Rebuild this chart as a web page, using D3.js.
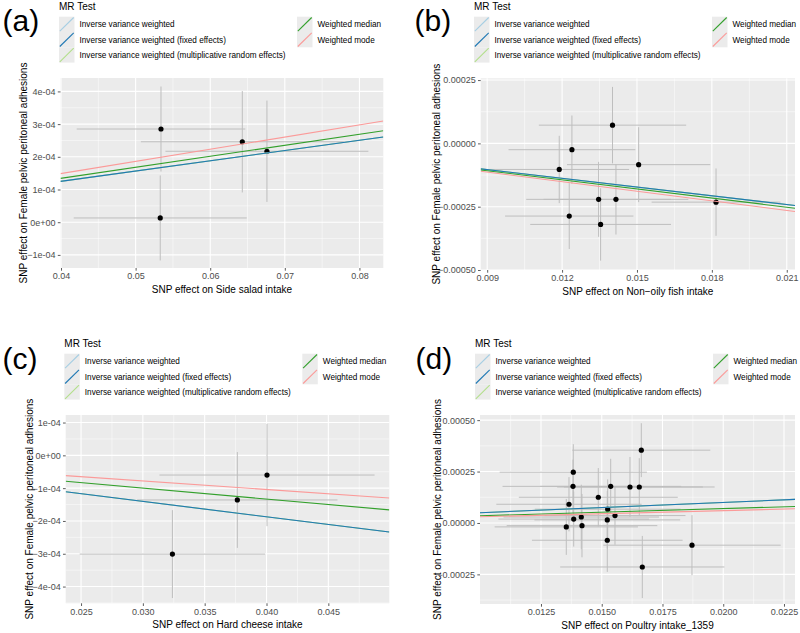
<!DOCTYPE html>
<html>
<head>
<meta charset="utf-8">
<script src="https://cdn.jsdelivr.net/npm/d3@7"></script>
<style>
  html, body { margin: 0; padding: 0; background: #ffffff; }
  svg { display: block; font-family: "Liberation Sans", Arial, Helvetica, sans-serif; }
</style>
</head>
<body>
<svg id="chart" width="800" height="633"></svg>
<script>
// ---------------- DATA ----------------
const methods = [
  "Inverse variance weighted",
  "Inverse variance weighted (fixed effects)",
  "Inverse variance weighted (multiplicative random effects)",
  "Weighted median",
  "Weighted mode"
];
const outcomeTitle = "SNP effect on Female pelvic peritoneal adhesions";
const exposureTitles = [
  "SNP effect on Side salad intake",
  "SNP effect on Non\u2212oily fish intake",
  "SNP effect on Hard cheese intake",
  "SNP effect on Poultry intake_1359"
];
const panelLetters = ["(a)", "(b)", "(c)", "(d)"];

// Panel (a): Side salad intake
const aBetaX = [0.0534, 0.0643, 0.0676, 0.0533];
const aBetaY = [2.85e-4, 2.46e-4, 2.17e-4, 0.13e-4];
const aSeX   = [0.0113, 0.0136, 0.0136, 0.0116];
const aSeY   = [1.30e-4, 1.55e-4, 1.55e-4, 1.30e-4];
const aSlopes = [3.13e-3, 3.13e-3, 3.13e-3, 3.36e-3, 3.72e-3];
const aXTicks = [0.04, 0.05, 0.06, 0.07, 0.08];
const aXTickLabels = ["0.04", "0.05", "0.06", "0.07", "0.08"];
const aYTicks = [-1e-4, 0, 1e-4, 2e-4, 3e-4, 4e-4];
const aYTickLabels = ["\u22121e-04", "0e+00", "1e-04", "2e-04", "3e-04", "4e-04"];

// Panel (b): Non-oily fish intake
const bBetaX = [0.01402, 0.012394, 0.011886, 0.015067, 0.013463, 0.014158, 0.012287, 0.013543, 0.018167];
const bBetaY = [7.2e-5, -2.5e-5, -1.03e-4, -8.4e-5, -2.21e-4, -2.21e-4, -2.87e-4, -3.20e-4, -2.32e-4];
const bSeX   = [0.00295, 0.00254, 0.0028, 0.00287, 0.0029, 0.0029, 0.00257, 0.00282, 0.00258];
const bSeY   = [1.51e-4, 1.35e-4, 1.33e-4, 1.48e-4, 1.48e-4, 1.39e-4, 1.30e-4, 1.43e-4, 1.33e-4];
const bSlopes = [-0.0115, -0.0115, -0.0115, -0.0120, -0.0126];
const bXTicks = [0.009, 0.012, 0.015, 0.018, 0.021];
const bXTickLabels = ["0.009", "0.012", "0.015", "0.018", "0.021"];
const bYTicks = [-0.0005, -0.00025, 0, 0.00025];
const bYTickLabels = ["\u22120.00050", "\u22120.00025", "0.00000", "0.00025"];

// Panel (c): Hard cheese intake
const cBetaX = [0.03239, 0.03764, 0.04004];
const cBetaY = [-3.01e-4, -1.36e-4, -0.60e-4];
const cSeX   = [0.0075, 0.0081, 0.0087];
const cSeY   = [1.34e-4, 1.46e-4, 1.56e-4];
const cSlopes = [-4.68e-3, -4.68e-3, -4.68e-3, -3.33e-3, -2.60e-3];
const cXTicks = [0.025, 0.030, 0.035, 0.040, 0.045];
const cXTickLabels = ["0.025", "0.030", "0.035", "0.040", "0.045"];
const cYTicks = [-4e-4, -3e-4, -2e-4, -1e-4, 0, 1e-4];
const cYTickLabels = ["\u22124e-04", "\u22123e-04", "\u22122e-04", "\u22121e-04", "0e+00", "1e-04"];

// Panel (d): Poultry intake_1359
const dBetaX = [0.016628, 0.013829, 0.013817, 0.015368, 0.016162, 0.016545, 0.014858, 0.013652, 0.015245,
                0.015545, 0.014158, 0.013846, 0.015228, 0.014187, 0.013541, 0.015228, 0.018714, 0.016669];
const dBetaY = [3.54e-4, 2.47e-4, 1.78e-4, 1.78e-4, 1.75e-4, 1.75e-4, 1.25e-4, 9.1e-5, 6.7e-5,
                3.6e-5, 2.9e-5, 1.9e-5, 1.5e-5, -1.3e-5, -1.9e-5, -8.4e-5, -1.08e-4, -2.14e-4];
const dSeX   = [0.00284, 0.00303, 0.0029, 0.0029, 0.0030, 0.0031, 0.00327, 0.00299, 0.0030,
                0.0029, 0.0032, 0.0031, 0.0030, 0.0031, 0.00295, 0.0031, 0.00365, 0.00338];
const dSeY   = [1.31e-4, 1.36e-4, 1.30e-4, 1.34e-4, 1.46e-4, 1.40e-4, 1.42e-4, 1.32e-4, 1.45e-4,
                1.42e-4, 1.57e-4, 1.34e-4, 1.40e-4, 1.54e-4, 1.36e-4, 1.54e-4, 1.46e-4, 1.51e-4];
const dSlopes = [5.0e-3, 5.0e-3, 5.0e-3, 3.5e-3, 3.0e-3];
const dXTicks = [0.0125, 0.0150, 0.0175, 0.0200, 0.0225];
const dXTickLabels = ["0.0125", "0.0150", "0.0175", "0.0200", "0.0225"];
const dYTicks = [-0.00025, 0, 0.00025, 0.0005];
const dYTickLabels = ["\u22120.00025", "0.00000", "0.00025", "0.00050"];

// ---------------- STYLE / LAYOUT ----------------
const methodColors = ["#a6cee3", "#1f78b4", "#b2df8a", "#33a02c", "#fb9a99"];
const lineDrawOrder = [0, 2, 1, 3, 4];

const layouts = [
  { x0: 60.5, x1: 383.3, y0: 78, y1: 268, xDomain: [0.03993, 0.0832], yDomain: [-1.40e-4, 4.41e-4],
    yTitleX: 26.6, labelX: 2.5, labelBase: 31, legX: 59, legY: 0 },
  { x0: 480.7, x1: 795, y0: 78.3, y1: 270, xDomain: [0.00874, 0.02133], yDomain: [-0.0005, 0.000257],
    yTitleX: 439.6, labelX: 414.5, labelBase: 31, legX: 474, legY: 0 },
  { x0: 65.7, x1: 389.3, y0: 415, y1: 603.3, xDomain: [0.02376, 0.04993], yDomain: [-4.51e-4, 1.23e-4],
    yTitleX: 32.6, labelX: 2.5, labelBase: 368.5, legX: 64.3, legY: 337 },
  { x0: 480, x1: 795, y0: 415, y1: 604, xDomain: [0.0099897, 0.022953], yDomain: [-0.000394, 0.000525],
    yTitleX: 441, labelX: 415.5, labelBase: 368.5, legX: 475, legY: 337 }
];

const panelData = [
  { bx: aBetaX, by: aBetaY, sx: aSeX, sy: aSeY, slopes: aSlopes, xt: aXTicks, xtl: aXTickLabels, yt: aYTicks, ytl: aYTickLabels },
  { bx: bBetaX, by: bBetaY, sx: bSeX, sy: bSeY, slopes: bSlopes, xt: bXTicks, xtl: bXTickLabels, yt: bYTicks, ytl: bYTickLabels },
  { bx: cBetaX, by: cBetaY, sx: cSeX, sy: cSeY, slopes: cSlopes, xt: cXTicks, xtl: cXTickLabels, yt: cYTicks, ytl: cYTickLabels },
  { bx: dBetaX, by: dBetaY, sx: dSeX, sy: dSeY, slopes: dSlopes, xt: dXTicks, xtl: dXTickLabels, yt: dYTicks, ytl: dYTickLabels }
];

const svg = d3.select("#chart");

function minorTicks(ticks, domain) {
  const step = ticks[1] - ticks[0];
  const out = [];
  const start = ticks[0] - step / 2;
  for (let v = start; v <= domain[1] + 1e-12; v += step) {
    if (v >= domain[0] - 1e-12) out.push(v);
  }
  return out;
}

function drawPanel(i) {
  const L = layouts[i], D = panelData[i];
  const g = svg.append("g");
  const x = d3.scaleLinear().domain(L.xDomain).range([L.x0, L.x1]);
  const y = d3.scaleLinear().domain(L.yDomain).range([L.y1, L.y0]);

  const clipId = "clip" + i;
  svg.append("clipPath").attr("id", clipId)
    .append("rect").attr("x", L.x0).attr("y", L.y0).attr("width", L.x1 - L.x0).attr("height", L.y1 - L.y0);

  g.append("rect").attr("x", L.x0).attr("y", L.y0)
    .attr("width", L.x1 - L.x0).attr("height", L.y1 - L.y0).attr("fill", "#ebebeb");

  // minor grid
  const grid = g.append("g");
  minorTicks(D.xt, L.xDomain).forEach(v => {
    grid.append("line").attr("x1", x(v)).attr("x2", x(v)).attr("y1", L.y0).attr("y2", L.y1)
      .attr("stroke", "#ffffff").attr("stroke-width", 0.5);
  });
  minorTicks(D.yt, L.yDomain).forEach(v => {
    grid.append("line").attr("y1", y(v)).attr("y2", y(v)).attr("x1", L.x0).attr("x2", L.x1)
      .attr("stroke", "#ffffff").attr("stroke-width", 0.5);
  });
  D.xt.forEach(v => {
    grid.append("line").attr("x1", x(v)).attr("x2", x(v)).attr("y1", L.y0).attr("y2", L.y1)
      .attr("stroke", "#ffffff").attr("stroke-width", 1.1);
  });
  D.yt.forEach(v => {
    grid.append("line").attr("y1", y(v)).attr("y2", y(v)).attr("x1", L.x0).attr("x2", L.x1)
      .attr("stroke", "#ffffff").attr("stroke-width", 1.1);
  });

  const inner = g.append("g").attr("clip-path", `url(#${clipId})`);
  const idx = d3.range(D.bx.length);
  // vertical error bars
  inner.selectAll(".ev").data(idx).join("line")
    .attr("x1", k => x(D.bx[k])).attr("x2", k => x(D.bx[k]))
    .attr("y1", k => y(D.by[k] - D.sy[k])).attr("y2", k => y(D.by[k] + D.sy[k]))
    .attr("stroke", "#bebebe").attr("stroke-width", 1);
  // horizontal error bars
  inner.selectAll(".eh").data(idx).join("line")
    .attr("x1", k => x(D.bx[k] - D.sx[k])).attr("x2", k => x(D.bx[k] + D.sx[k]))
    .attr("y1", k => y(D.by[k])).attr("y2", k => y(D.by[k]))
    .attr("stroke", "#bebebe").attr("stroke-width", 1);
  // points
  inner.selectAll(".pt").data(idx).join("circle")
    .attr("cx", k => x(D.bx[k])).attr("cy", k => y(D.by[k])).attr("r", 2.6).attr("fill", "#000000");
  // ablines (intercept 0)
  lineDrawOrder.forEach(m => {
    const s = D.slopes[m];
    inner.append("line")
      .attr("x1", x(L.xDomain[0])).attr("y1", y(s * L.xDomain[0]))
      .attr("x2", x(L.xDomain[1])).attr("y2", y(s * L.xDomain[1]))
      .attr("stroke", methodColors[m]).attr("stroke-width", 1.1);
  });

  // axes
  const xAxis = d3.axisBottom(x).tickValues(D.xt).tickFormat((v, k) => D.xtl[k]).tickSize(2.7).tickPadding(2.2);
  const gx = g.append("g").attr("transform", `translate(0,${L.y1})`).call(xAxis);
  const yAxis = d3.axisLeft(y).tickValues(D.yt).tickFormat((v, k) => D.ytl[k]).tickSize(2.7).tickPadding(2.2);
  const gy = g.append("g").attr("transform", `translate(${L.x0},0)`).call(yAxis);
  [gx, gy].forEach(ax => {
    ax.select(".domain").remove();
    ax.selectAll(".tick line").attr("stroke", "#333333").attr("stroke-width", 0.8);
    ax.selectAll(".tick text").attr("fill", "#4d4d4d").attr("font-size", 9)
      .attr("font-family", '"Liberation Sans", Arial, sans-serif');
  });

  // axis titles
  g.append("text").attr("x", (L.x0 + L.x1) / 2).attr("y", L.y1 + 24.6)
    .attr("text-anchor", "middle").attr("font-size", 10).attr("fill", "#000").text(exposureTitles[i]);
  g.append("text").attr("transform", `translate(${L.yTitleX},${(L.y0 + L.y1) / 2}) rotate(-90)`)
    .attr("text-anchor", "middle").attr("font-size", 10).attr("fill", "#000").text(outcomeTitle);

  // panel letter
  g.append("text").attr("x", L.labelX).attr("y", L.labelBase)
    .attr("font-size", 30).attr("fill", "#000").text(panelLetters[i]);

  // legend
  const lg = g.append("g").attr("transform", `translate(${L.legX},${L.legY})`);
  lg.append("text").attr("x", 0).attr("y", 9.6).attr("font-size", 10).attr("fill", "#000").text("MR Test");
  const keyW = 15.5, keyH = 15.3, top = 16.7, colOff = 238;
  methods.forEach((m, k) => {
    const col = k < 3 ? 0 : 1;
    const row = k < 3 ? k : k - 3;
    const kx = col * colOff, ky = top + row * keyH;
    lg.append("rect").attr("x", kx).attr("y", ky).attr("width", keyW).attr("height", keyH).attr("fill", "#ebebeb");
    lg.append("line").attr("x1", kx + 0.8).attr("y1", ky + keyH - 0.8).attr("x2", kx + keyW - 0.8).attr("y2", ky + 0.8)
      .attr("stroke", methodColors[k]).attr("stroke-width", 1.1);
    lg.append("text").attr("x", kx + keyW + 5).attr("y", ky + keyH / 2 + 2.9)
      .attr("font-size", 8.2).attr("fill", "#000").text(m);
  });
}

d3.range(4).forEach(drawPanel);
</script>
</body>
</html>
